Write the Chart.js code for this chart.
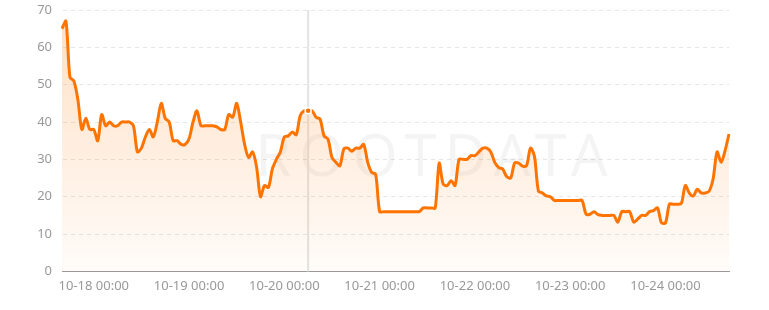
<!DOCTYPE html>
<html>
<head>
<meta charset="utf-8">
<script src="https://cdn.jsdelivr.net/npm/chart.js@4"></script>
<style>
  html, body { margin: 0; padding: 0; background: #fff; }
  #wrap { width: 769px; height: 310px; position: relative; }
</style>
</head>
<body>
<div id="wrap"><canvas id="priceChart"></canvas></div>
<script>
// hourly samples, starting 10-17 16:00
const startDay = 17;
const startHour = 16;
const values = [
  65, 67, 52, 51, 46, 38, 41, 38, 38, 35, 42, 39, 40, 39, 39, 40, 40, 40, 39, 32,
  33, 36, 38, 36, 40, 45, 41, 40, 35, 35, 34, 34, 35.5, 40, 43, 39, 39, 39, 39, 38.7,
  38, 38, 42, 41.3, 45, 40, 34, 30.5, 32, 28, 20, 23, 22.5, 27.5, 30, 32, 36, 36.3, 37.3, 36.6,
  41.7, 43, 43, 43, 41.3, 40.8, 36.3, 35.4, 30.5, 29.2, 28.3, 32.8, 33, 32.2, 33, 33, 34, 29.2, 26.5, 26,
  16, 16, 16, 16, 16, 16, 16, 16, 16, 16, 16, 17, 17, 17, 17, 29, 23.4, 23, 24.3, 23,
  30, 30, 30, 31, 31, 32, 33, 33, 32, 29.2, 27.8, 27.4, 25.4, 25, 29, 29, 28.2, 28.3, 33, 30.8,
  21.5, 21, 20.2, 20, 19, 19, 19, 19, 19, 19, 19, 19, 15.3, 15.3, 16, 15.2, 15, 15, 15, 15,
  13.2, 16, 16, 16, 13.2, 14, 15, 15, 16, 16.3, 17, 13, 13, 18, 18, 18, 18.2, 23, 21, 20.2,
  22, 21, 21, 21.5, 24.8, 32, 29.2, 32.3, 36.8
];
const yTicks = [0, 10, 20, 30, 40, 50, 60, 70];
const hoverIndex = 62;
const watermark = 'ROOTDATA';

const pad = n => String(n).padStart(2, '0');
const labels = values.map((v, i) => {
  const h = startHour + i;
  return '10-' + pad(startDay + Math.floor(h / 24)) + ' ' + pad(h % 24) + ':00';
});

const orange = '#ff7400';

// hover crosshair + watermark, drawn under the line
const overlay = {
  id: 'overlay',
  beforeDatasetsDraw(chart) {
    const { ctx, chartArea: a, scales } = chart;
    ctx.save();
    ctx.font = '58px "Noto Sans", sans-serif';
    ctx.fillStyle = 'rgba(0,0,0,0.045)';
    ctx.textAlign = 'center';
    ctx.textBaseline = 'middle';
    if ('letterSpacing' in ctx) ctx.letterSpacing = '8px';
    ctx.fillText(watermark, a.left + a.width * 0.56, a.top + a.height * 0.57);
    const x = scales.x.getPixelForValue(hoverIndex);
    ctx.strokeStyle = '#e3e3e3';
    ctx.lineWidth = 2;
    ctx.beginPath();
    ctx.moveTo(x, a.top);
    ctx.lineTo(x, a.bottom);
    ctx.stroke();
    ctx.restore();
  }
};

const ctx = document.getElementById('priceChart').getContext('2d');
const grad = ctx.createLinearGradient(0, 10, 0, 269);
grad.addColorStop(0, 'rgba(255,140,40,0.28)');
grad.addColorStop(1, 'rgba(255,140,40,0.03)');

const chart = new Chart(ctx, {
  type: 'line',
  data: {
    labels: labels,
    datasets: [{
      data: values,
      borderColor: orange,
      borderWidth: 3,
      backgroundColor: grad,
      fill: true,
      tension: 0.3,
      pointRadius: 0,
      pointHoverRadius: 3,
      pointHoverBorderWidth: 1.5,
      pointHoverBackgroundColor: orange,
      pointHoverBorderColor: '#fff'
    }]
  },
  options: {
    responsive: true,
    maintainAspectRatio: false,
    animation: false,
    layout: { padding: { top: 10, right: 40, bottom: 9, left: 0 } },
    plugins: {
      legend: { display: false },
      tooltip: { enabled: false }
    },
    scales: {
      x: {
        grid: { display: false, drawTicks: false },
        border: { color: '#999', dash: [4, 3], width: 1 },
        ticks: {
          autoSkip: false,
          maxRotation: 0,
          padding: 7,
          color: '#999',
          font: { family: '"Noto Sans", sans-serif', size: 13 },
          callback: (v, i) => labels[i].endsWith(' 00:00') ? labels[i] : null
        }
      },
      y: {
        min: 0,
        max: 70,
        afterFit: s => { s.width = 62; s.paddingTop = 0; s.paddingBottom = 0; },
        afterBuildTicks: s => { s.ticks = yTicks.map(v => ({ value: v })); },
        grid: { color: '#e6e6e6', drawTicks: false },
        border: { display: true, color: 'rgba(0,0,0,0)', dash: [4, 4] },
        ticks: {
          padding: 10,
          color: '#999',
          font: { family: '"Noto Sans", sans-serif', size: 13 }
        }
      }
    }
  },
  plugins: [overlay]
});

chart.setActiveElements([{ datasetIndex: 0, index: hoverIndex }]);
chart.update('none');
</script>
</body>
</html>
